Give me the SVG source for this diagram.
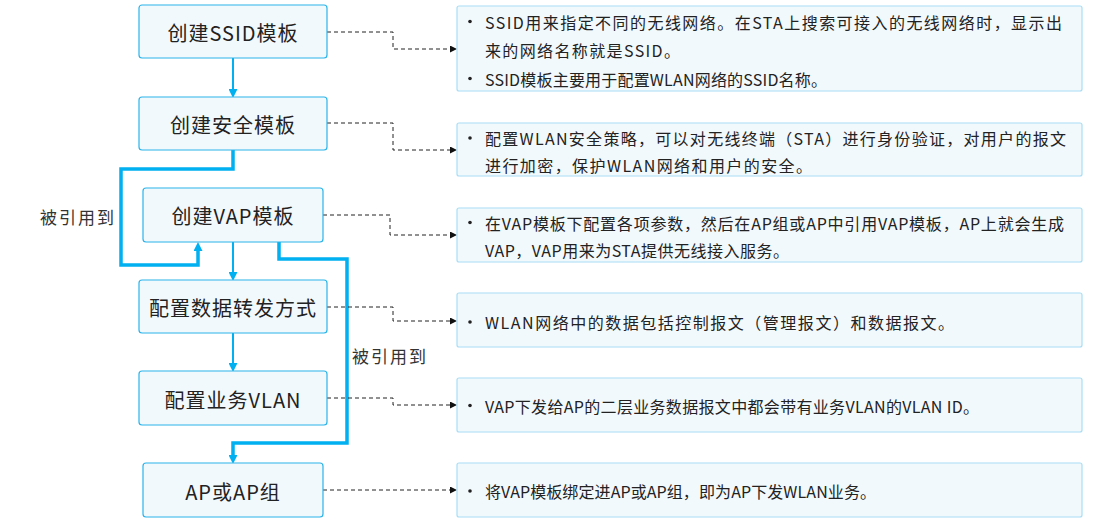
<svg xmlns="http://www.w3.org/2000/svg" width="1105" height="524" viewBox="0 0 1105 524">
<style>
.node{fill:#f2f9fd;stroke:#2ab4ea;stroke-width:1.2}
.note{fill:#f2f9fd;stroke:#a8def5;stroke-width:1.2}
.nt{font-family:"Noto Sans CJK SC","Noto Sans",sans-serif;font-size:20px;fill:#222;text-anchor:middle;dominant-baseline:central;letter-spacing:1px}
.tt{font-family:"Noto Sans CJK SC","Noto Sans",sans-serif;font-size:16px;fill:#222;dominant-baseline:central}
.lb{font-family:"Noto Sans CJK SC","Noto Sans",sans-serif;font-size:17px;fill:#333;dominant-baseline:central;letter-spacing:2px}
.bl{fill:none;stroke:#00b0f0}
.thin{stroke-width:2}
.thick{stroke-width:3.5}
.dash{fill:none;stroke:#222;stroke-width:1;stroke-dasharray:4 3}
.dot{fill:#222}
</style>
<defs>
<marker id="ab" markerUnits="userSpaceOnUse" markerWidth="9" markerHeight="9" viewBox="0 0 8 8" refX="0" refY="4" orient="auto">
<path d="M0,0 L8,4 L0,8 Z" fill="#00b0f0"/>
</marker>
<marker id="ak" markerUnits="userSpaceOnUse" markerWidth="7" markerHeight="7" viewBox="0 0 7 7" refX="0" refY="3.5" orient="auto">
<path d="M0,0 L7,3.5 L0,7 Z" fill="#111"/>
</marker>
</defs>

<g id="connectors">
<path class="bl thin" d="M233,58 V89" marker-end="url(#ab)"/>
<path class="bl thick" d="M233,150 V169 H121 V265 H198 V251" marker-end="url(#ab)"/>
<path class="bl thin" d="M233,242 V272" marker-end="url(#ab)"/>
<path class="bl thin" d="M233,333 V363" marker-end="url(#ab)"/>
<path class="bl thick" d="M279,242 V259 H347 V443 H233 V455" marker-end="url(#ab)"/>
<path class="dash" d="M327,32 H393 V49 H450" marker-end="url(#ak)"/>
<path class="dash" d="M327,123 H393 V150 H450" marker-end="url(#ak)"/>
<path class="dash" d="M323,215 H390 V235 H450" marker-end="url(#ak)"/>
<path class="dash" d="M327,307 H393 V321 H450" marker-end="url(#ak)"/>
<path class="dash" d="M327,398 H393 V405 H450" marker-end="url(#ak)"/>
<path class="dash" d="M323,490 H450" marker-end="url(#ak)"/>
<text class="lb" x="40" y="216">被引用到</text>
<text class="lb" x="352" y="355">被引用到</text>
</g>

<g id="n1"><rect class="node" x="139" y="5" width="188" height="53" rx="3"/><text class="nt" x="233" y="32">创建SSID模板</text></g>
<g id="n2"><rect class="node" x="139" y="97" width="188" height="53" rx="3"/><text class="nt" x="233" y="124">创建安全模板</text></g>
<g id="n3"><rect class="node" x="143" y="188" width="180" height="54" rx="3"/><text class="nt" x="233" y="215">创建VAP模板</text></g>
<g id="n4"><rect class="node" x="139" y="280" width="188" height="53" rx="3"/><text class="nt" x="233" y="307">配置数据转发方式</text></g>
<g id="n5"><rect class="node" x="139" y="371" width="188" height="54" rx="3"/><text class="nt" x="233" y="399">配置业务VLAN</text></g>
<g id="n6"><rect class="node" x="143" y="463" width="180" height="54" rx="3"/><text class="nt" x="233" y="491">AP或AP组</text></g>

<g id="d1"><rect class="note" x="457" y="6" width="625" height="85" rx="2"/>
<circle class="dot" cx="470" cy="21.5" r="1.8"/>
<text class="tt" x="485" y="21.5" textLength="577" lengthAdjust="spacing">SSID用来指定不同的无线网络。在STA上搜索可接入的无线网络时，显示出</text>
<text class="tt" x="485" y="50" textLength="195" lengthAdjust="spacing">来的网络名称就是SSID。</text>
<circle class="dot" cx="470" cy="78.5" r="1.8"/>
<text class="tt" x="485" y="78.5" textLength="342" lengthAdjust="spacing">SSID模板主要用于配置WLAN网络的SSID名称。</text>
</g>
<g id="d2"><rect class="note" x="457" y="123" width="625" height="53" rx="2"/>
<circle class="dot" cx="470" cy="138" r="1.8"/>
<text class="tt" x="485" y="138" textLength="581" lengthAdjust="spacing">配置WLAN安全策略，可以对无线终端（STA）进行身份验证，对用户的报文</text>
<text class="tt" x="485" y="165" textLength="327" lengthAdjust="spacing">进行加密，保护WLAN网络和用户的安全。</text>
</g>
<g id="d3"><rect class="note" x="457" y="208" width="625" height="54" rx="2"/>
<circle class="dot" cx="470" cy="222.5" r="1.8"/>
<text class="tt" x="485" y="222.5" textLength="579" lengthAdjust="spacing">在VAP模板下配置各项参数，然后在AP组或AP中引用VAP模板，AP上就会生成</text>
<text class="tt" x="485" y="250" textLength="304" lengthAdjust="spacing">VAP，VAP用来为STA提供无线接入服务。</text>
</g>
<g id="d4"><rect class="note" x="457" y="293" width="625" height="54" rx="2"/>
<circle class="dot" cx="470" cy="322" r="1.8"/>
<text class="tt" x="485" y="322" textLength="469" lengthAdjust="spacing">WLAN网络中的数据包括控制报文（管理报文）和数据报文。</text>
</g>
<g id="d5"><rect class="note" x="457" y="378" width="625" height="54" rx="2"/>
<circle class="dot" cx="470" cy="405.5" r="1.8"/>
<text class="tt" x="485" y="405.5" textLength="494" lengthAdjust="spacing">VAP下发给AP的二层业务数据报文中都会带有业务VLAN的VLAN ID。</text>
</g>
<g id="d6"><rect class="note" x="457" y="463" width="625" height="54" rx="2"/>
<circle class="dot" cx="470" cy="491" r="1.8"/>
<text class="tt" x="485" y="491" textLength="391" lengthAdjust="spacing">将VAP模板绑定进AP或AP组，即为AP下发WLAN业务。</text>
</g>
</svg>
